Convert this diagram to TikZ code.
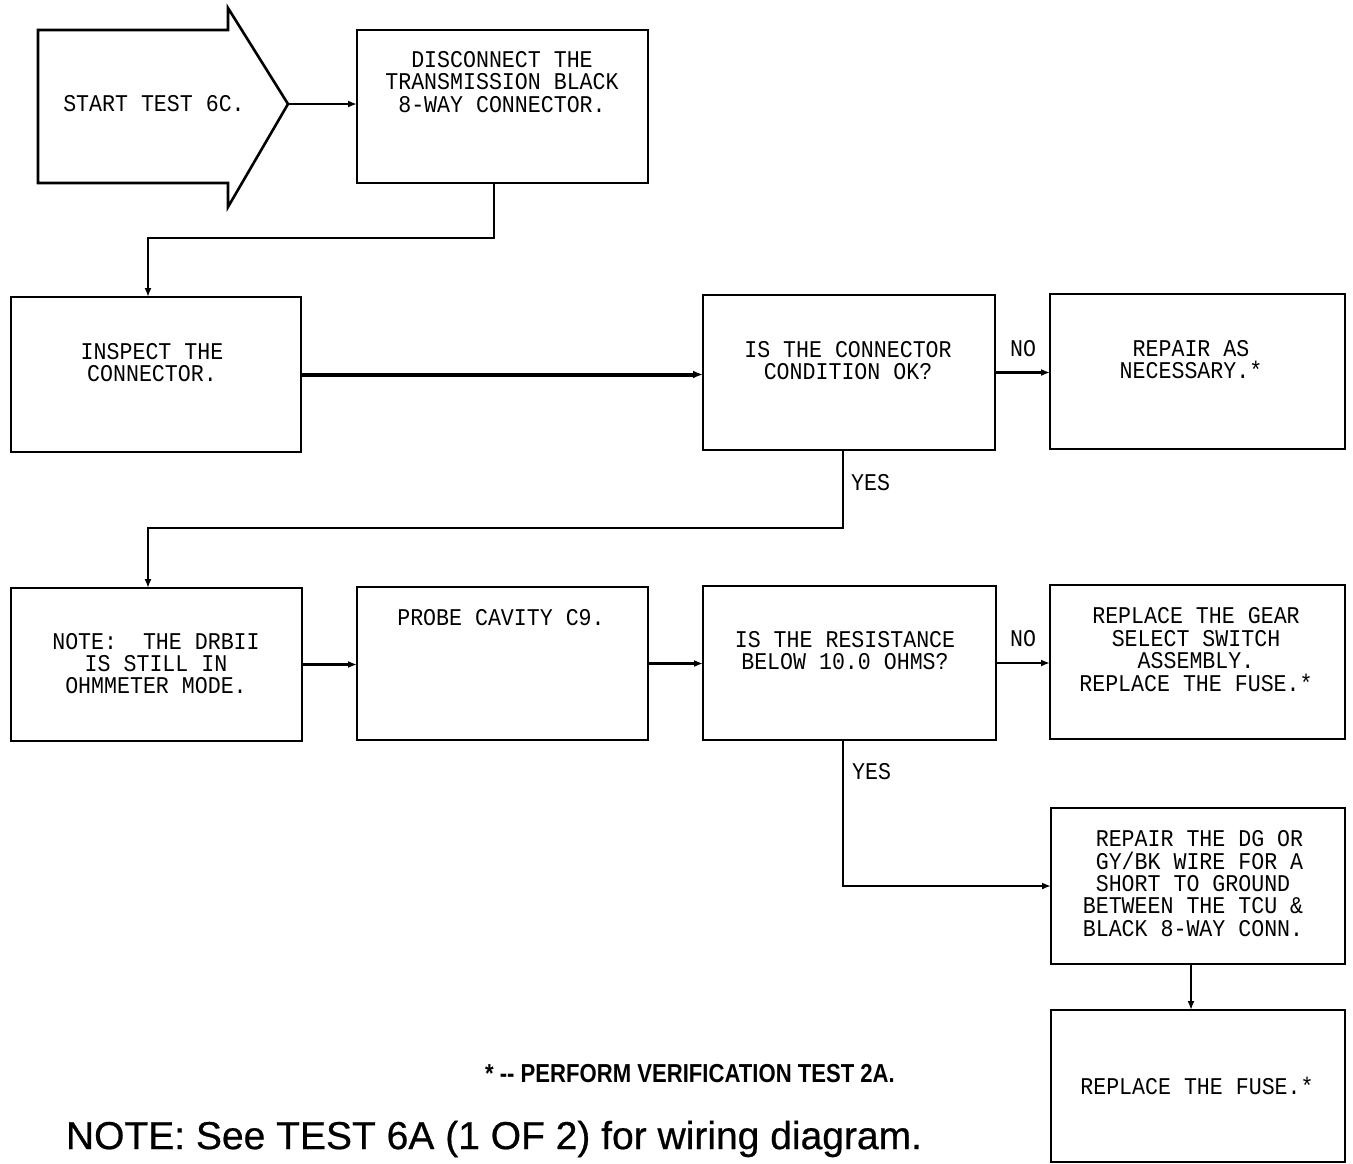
\documentclass[tikz,border=0pt]{standalone}
\usepackage{fontspec}
\newfontfamily\boxfont{Liberation Mono}[FakeStretch=0.9]
\newfontfamily\footfont{Liberation Sans}[FakeStretch=0.85]
\newfontfamily\notefont{Liberation Sans}[FakeBold=0.6]
\usetikzlibrary{arrows.meta,calc}
\begin{document}
\begin{tikzpicture}[x=1pt,y=-1pt,
  box/.style={draw, line width=2.6pt, inner sep=0pt, outer sep=0pt},
  txt/.style={inner sep=0pt, align=center, font=\boxfont\fontsize{24}{22.4}\selectfont},
  lbl/.style={inner sep=0pt, font=\boxfont\fontsize{24}{22.4}\selectfont},
  arr/.style={line width=2.4pt, -{Latex[length=9pt,width=7pt]}},
  thickarr/.style={line width=4pt, -{Latex[length=10pt,width=8pt]}},
]
\useasboundingbox (0,0) rectangle (1353,1163);

% start arrow shape
\draw[box, line join=miter] (38,30) -- (228,30) -- (228,8) -- (288,104) -- (228,207) -- (228,183) -- (38,183) -- cycle;
\coordinate (starttip) at (288,104);
\node[txt] (tstart) at (154,104) {START TEST 6C.};

% boxes
\node[box, minimum width=291pt, minimum height=153pt] (disc)  at (502.5,106.5) {};
\node[box, minimum width=290pt, minimum height=155pt] (insp)  at (156,374.5) {};
\node[box, minimum width=292pt, minimum height=155pt] (cond)  at (849,372.5) {};
\node[box, minimum width=295pt, minimum height=155pt] (rep)   at (1197.5,371.5) {};
\node[box, minimum width=291pt, minimum height=153pt] (note)  at (156.5,664.5) {};
\node[box, minimum width=291pt, minimum height=153pt] (probe) at (502.5,663.5) {};
\node[box, minimum width=293pt, minimum height=154pt] (res)   at (849.5,663) {};
\node[box, minimum width=295pt, minimum height=154pt] (gear)  at (1197.5,662) {};
\node[box, minimum width=294pt, minimum height=156pt] (dg)    at (1198,886) {};
\node[box, minimum width=294pt, minimum height=152pt] (fuse)  at (1198,1086) {};

% texts
\node[txt] (tdisc) at (502,82) {DISCONNECT THE\\TRANSMISSION BLACK\\8-WAY CONNECTOR.};
\node[txt] (tinsp) at (152,362.5) {INSPECT THE\\CONNECTOR.};
\node[txt] (tcond) at (848,360.5) {IS THE CONNECTOR\\CONDITION OK?};
\node[txt] (trep) at (1191,359.5) {REPAIR AS\\NECESSARY.*};
\node[txt] (tnote) at (156,663.5) {NOTE:~ THE DRBII\\IS STILL IN\\OHMMETER MODE.};
\node[txt] (tprobe) at (501,618) {PROBE CAVITY C9.};
\node[txt] (tres) at (845,650.5) {IS THE RESISTANCE\\BELOW 10.0 OHMS?};
\node[txt] (tgear) at (1196,649.5) {REPLACE THE GEAR\\SELECT SWITCH\\ASSEMBLY.\\REPLACE THE FUSE.*};
\node[txt, align=left] (tdg) at (1193,883.5) {\phantom{B}REPAIR THE DG OR\\\phantom{B}GY/BK WIRE FOR A\\\phantom{B}SHORT TO GROUND\\BETWEEN THE TCU \&\\BLACK 8-WAY CONN.};
\node[txt] (tfuse) at (1197,1086) {REPLACE THE FUSE.*};

% labels
\node[lbl] (no1) at (1023,349) {NO};
\node[lbl] (no2) at (1023,639) {NO};
\node[lbl, anchor=west] (yes1) at (851,483) {YES};
\node[lbl, anchor=west] (yes2) at (852,772) {YES};

% connectors
\draw[arr] (starttip) -- (starttip -| disc.west);
\draw[arr] ([xshift=-8.5pt]disc.south) -- ++(0,55) -| ([xshift=-8pt]insp.north);
\draw[thickarr] (insp.east) -- (insp.east -| cond.west);
\draw[arr] (cond.east) -- (cond.east -| rep.west);
\draw[arr] ([xshift=-6pt]cond.south) -- ++(0,78) -| ([xshift=-8.5pt]note.north);
\draw[arr] (note.east) -- (note.east -| probe.west);
\draw[arr] (probe.east) -- (probe.east -| res.west);
\draw[arr] (res.east) -- (res.east -| gear.west);
\draw[arr] ([xshift=-6.5pt]res.south) |- (dg.west);
\draw[arr] ([xshift=-7pt]dg.south) -- ([xshift=-7pt]fuse.north);

% footnotes
\node[inner sep=0pt, font=\footfont\bfseries\fontsize{26}{28}\selectfont] (foot) at (690,1074) {* -- PERFORM VERIFICATION TEST 2A.};
\node[inner sep=0pt, font=\notefont\fontsize{39}{42}\selectfont] (wnote) at (494,1139) {NOTE: See TEST 6A (1 OF 2) for wiring diagram.};
\end{tikzpicture}
\end{document}
